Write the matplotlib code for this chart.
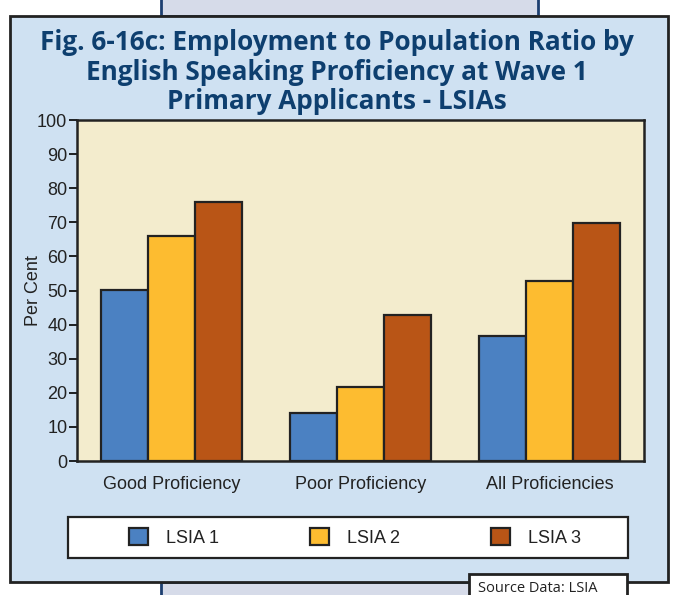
import numpy as np
import matplotlib.pyplot as plt
from matplotlib.patches import Rectangle, Patch

plt.rcParams['font.family'] = ['Liberation Sans', 'DejaVu Sans']

categories = ['Good Proficiency', 'Poor Proficiency', 'All Proficiencies']
series = ['LSIA 1', 'LSIA 2', 'LSIA 3']
lsia1 = [50.2, 14.0, 36.8]
lsia2 = [66.0, 21.8, 52.8]
lsia3 = [76.0, 42.9, 69.8]
colors = ['#4b81c2', '#fdbc30', '#b95516']

W, H = 674, 595
fig = plt.figure(figsize=(W / 100, H / 100), dpi=100)
fig.patch.set_facecolor('white')

def box(x0, y0, x1, y1, **kw):
    # pixel coords, y measured from top
    r = Rectangle((x0 / W, 1 - y1 / H), (x1 - x0) / W, (y1 - y0) / H,
                  transform=fig.transFigure, **kw)
    fig.add_artist(r)
    return r

# background panels
box(161, -5, 538, 16, facecolor='#d6dbe9', edgecolor='#1d3f70', lw=2, zorder=0)
box(161, 582, 538, 605, facecolor='#d6dbe9', edgecolor='#1d3f70', lw=2, zorder=0)
box(10, 16, 668, 582, facecolor='#cfe1f2', edgecolor='#222222', lw=2, zorder=1)
box(469, 574, 627, 605, facecolor='white', edgecolor='#222222', lw=2, zorder=2)
fig.text(478 / W, 1 - 589 / H, 'Source Data: LSIA', fontsize=10.5, family='Open Sans',
         color='#222222', va='center', ha='left', zorder=3)

fig.text(0.5, 1 - 72 / H,
         'Fig. 6-16c: Employment to Population Ratio by\nEnglish Speaking Proficiency at Wave 1\nPrimary Applicants - LSIAs',
         ha='center', va='center', fontsize=18.8, fontweight='bold', family='Open Sans',
         color='#0e3f6f', linespacing=1.1, zorder=3)

ax = fig.add_axes([77 / W, 1 - 461 / H, (644 - 77) / W, (461 - 120) / H])
ax.set_zorder(3)
ax.set_facecolor('#f3eccd')
x = np.arange(len(categories))
w = 0.25
for i, (vals, c) in enumerate(zip([lsia1, lsia2, lsia3], colors)):
    ax.bar(x + (i - 1) * w, vals, w, color=c, edgecolor='#222222', lw=1.6)
ax.set_xlim(-0.5, 2.5)
ax.set_ylim(0, 100)
ax.set_yticks(range(0, 101, 10))
ax.set_xticks(x)
ax.set_xticklabels(categories)
ax.tick_params(axis='x', length=0, pad=10.5, labelsize=13, labelcolor='#222222')
ax.tick_params(axis='y', length=6, width=1.2, pad=1, labelsize=13, labelcolor='#222222')
for s in ax.spines.values():
    s.set_linewidth(1.8)
    s.set_color('#222222')
ax.set_ylabel('Per Cent', fontsize=13, color='#222222')
ax.yaxis.set_label_coords((42 - 77) / (644 - 77), 0.5)

# legend
box(68, 517, 628, 558, facecolor='white', edgecolor='#222222', lw=1.6, zorder=2)
handles = [Patch(facecolor=c, edgecolor='#222222', lw=1.6) for c in colors]
leg = fig.legend(handles, series, loc='center', bbox_to_anchor=(355 / W, 1 - 537.5 / H),
                 ncol=3, frameon=False, fontsize=13, handlelength=1.05, handleheight=1.05,
                 handletextpad=1.0, columnspacing=5.05)
for t in leg.get_texts():
    t.set_color('#222222')
leg.set_zorder(4)

fig.savefig('out.png', dpi=100)
